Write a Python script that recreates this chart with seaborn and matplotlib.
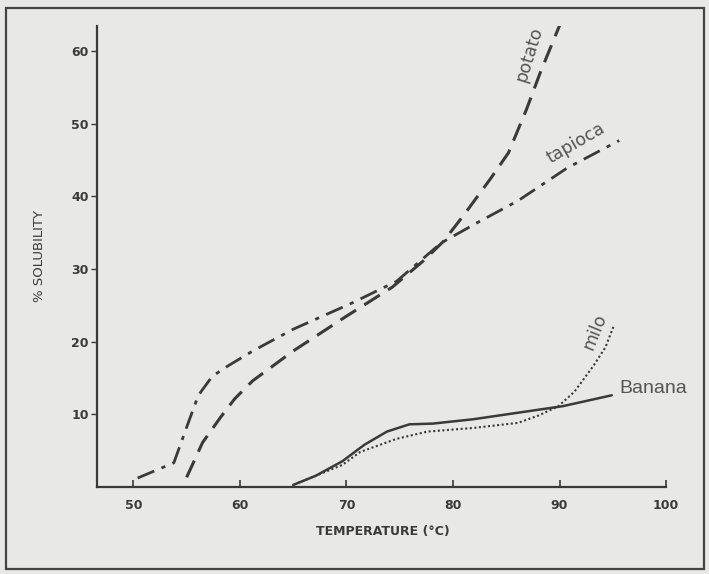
import numpy as np
import pandas as pd
import matplotlib
matplotlib.use("Agg")
import matplotlib.pyplot as plt
import seaborn as sns
from matplotlib.patches import Rectangle

# ---- data ----
tapioca_t = [50.4, 53.8, 55.1, 56.1, 57.4, 58.6, 61.2, 65.0, 70.5, 74.7, 78.9, 82.3, 86.1, 90.7, 95.6]
tapioca_s = [1.2, 3.3, 8.6, 12.6, 15.2, 16.4, 18.7, 21.7, 25.3, 28.3, 33.6, 36.4, 39.4, 43.9, 47.7]

potato_t = [55.0, 56.5, 58.2, 59.5, 61.2, 65.0, 70.0, 74.3, 77.2, 79.1, 81.0, 83.5, 85.2, 86.9, 88.2, 90.1]
potato_s = [1.3, 6.1, 9.6, 12.1, 14.6, 18.7, 23.5, 27.5, 31.1, 33.8, 37.4, 42.4, 46.0, 52.0, 57.1, 63.9]

banana_t = [65.0, 67.1, 69.6, 71.7, 73.8, 75.9, 78.1, 81.9, 86.1, 90.3, 94.9]
banana_s = [0.25, 1.5, 3.5, 5.8, 7.6, 8.6, 8.7, 9.3, 10.2, 11.1, 12.6]

milo_t = [65.4, 67.1, 69.6, 71.3, 74.7, 77.6, 81.9, 86.1, 88.0, 89.9, 91.4, 93.2, 94.3, 95.1]
milo_s = [0.5, 1.5, 3.0, 4.8, 6.6, 7.6, 8.1, 8.8, 9.8, 11.1, 13.1, 16.7, 19.2, 22.2]

x_ticks = [50, 60, 70, 80, 90, 100]
y_ticks = [10, 20, 30, 40, 50, 60]

BG = "#e8e8e6"
INK = "#3a3a3a"
LBL = "#555555"

sns.set_theme(style="white")
plt.rcParams["font.family"] = ["DejaVu Sans"]

fig = plt.figure(figsize=(7.09, 5.74), dpi=100, facecolor=BG)
ax = fig.add_axes([0.137, 0.152, 0.807, 0.803])
ax.set_facecolor(BG)

def series(t, s):
    return pd.DataFrame({"t": t, "s": s})

lp = dict(ax=ax, x="t", y="s", color=INK, sort=False, estimator=None)
sns.lineplot(data=series(tapioca_t, tapioca_s), linewidth=2.0, **lp).lines[-1].set_dashes([6.5, 2.8, 1.5, 2.8])
sns.lineplot(data=series(potato_t, potato_s), linewidth=2.2, **lp).lines[-1].set_dashes([6, 3.2])
sns.lineplot(data=series(banana_t, banana_s), linewidth=1.8, **lp)
sns.lineplot(data=series(milo_t, milo_s), linewidth=1.5, **lp).lines[-1].set_dashes([1, 1.2])

ax.set_xlim(46.6, 100.3)
ax.set_ylim(0, 63.5)
ax.set_xticks(x_ticks)
ax.set_yticks(y_ticks)
ax.set_xticklabels([str(v) for v in x_ticks])
ax.set_yticklabels([str(v) for v in y_ticks])

for side in ["top", "right"]:
    ax.spines[side].set_visible(False)
for side in ["left", "bottom"]:
    ax.spines[side].set_color(INK)
    ax.spines[side].set_linewidth(1.6)
ax.spines["bottom"].set_bounds(46.6, 100)

ax.tick_params(axis="x", direction="in", length=5, width=1.2, color=INK,
               labelsize=9, labelcolor=INK, pad=9, bottom=True)
ax.tick_params(axis="y", direction="out", length=4, width=1.0, color=INK,
               labelsize=9, labelcolor=INK, pad=2, left=True)
for lbl in ax.get_xticklabels() + ax.get_yticklabels():
    lbl.set_fontweight("bold")

ax.set_xlabel("TEMPERATURE (°C)", fontsize=9, fontweight="bold", color=INK, labelpad=9)
ax.set_ylabel("% SOLUBILITY", fontsize=9.5, color=INK, labelpad=18)

ax.text(87.1, 59.6, "potato", rotation=73, fontsize=12.5, color=LBL,
        ha="center", va="center")
ax.text(91.5, 47.3, "tapioca", rotation=30, fontsize=12.5, color=LBL,
        ha="center", va="center")
ax.text(93.3, 21.3, "milo", rotation=68, fontsize=12.5, color=LBL,
        ha="center", va="center")
ax.text(95.6, 13.6, "Banana", fontsize=14, color=LBL,
        ha="left", va="center", family=["Liberation Sans", "DejaVu Sans"])

fig.patches.append(Rectangle((0.008, 0.008), 0.985, 0.978, transform=fig.transFigure,
                             fill=False, edgecolor="#444444", linewidth=1.6))

fig.savefig("out.png", dpi=100, facecolor=BG)
